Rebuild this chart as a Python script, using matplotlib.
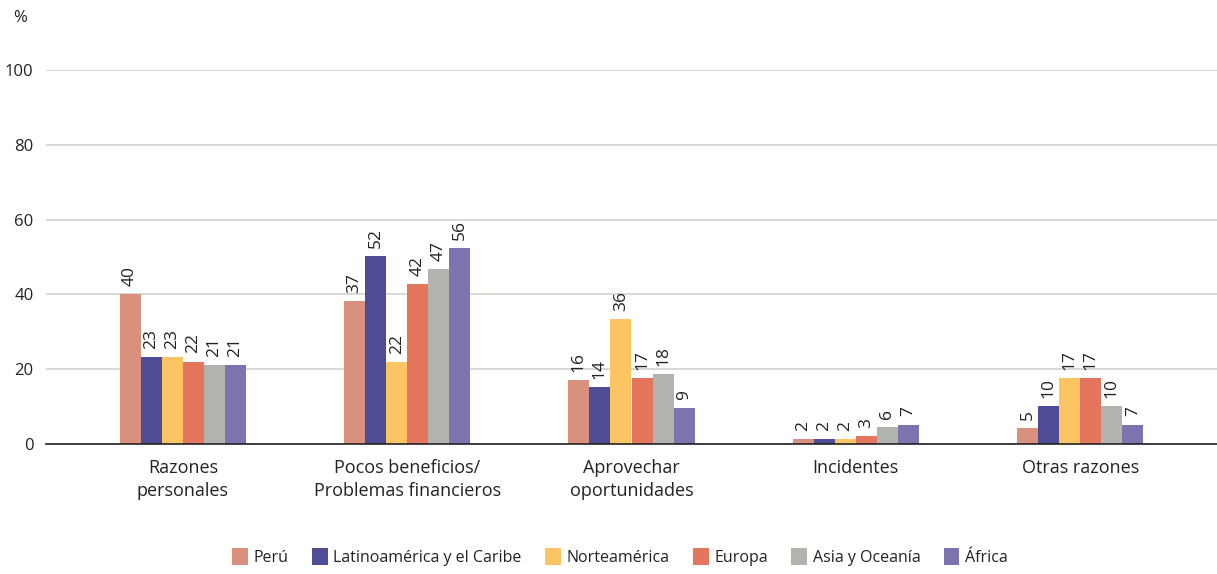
import matplotlib
matplotlib.use("Agg")
import matplotlib.pyplot as plt
import numpy as np

plt.rcParams['font.family'] = ['Open Sans', 'DejaVu Sans']

categories = ["Razones\npersonales", "Pocos beneficios/\nProblemas financieros",
              "Aprovechar\noportunidades", "Incidentes", "Otras razones"]
series = ["Perú", "Latinoamérica y el Caribe", "Norteamérica", "Europa",
          "Asia y Oceanía", "África"]
colors = ["#D9907D", "#4F4C97", "#FCC463", "#E4765E", "#B1B3AD", "#7C74AE"]

# bar heights as drawn
heights = [
    [40.0, 38.2, 17.1, 1.3, 4.3],
    [23.3, 50.3, 15.2, 1.3, 10.2],
    [23.3, 21.9, 33.4, 1.3, 17.6],
    [22.0, 42.8, 17.6, 2.1, 17.6],
    [21.0, 46.8, 18.7, 4.5, 10.2],
    [21.0, 52.4, 9.6, 5.2, 5.2],
]
# printed labels
labels = [
    [40, 37, 16, 2, 5],
    [23, 52, 14, 2, 10],
    [23, 22, 36, 2, 17],
    [22, 42, 17, 3, 17],
    [21, 47, 18, 6, 10],
    [21, 56, 9, 7, 7],
]
yticks = [0, 20, 40, 60, 80, 100]

fig = plt.figure(figsize=(12.17, 5.74), dpi=100)
ax = fig.add_axes([46/1217, 1-444/574, 1-46/1217, (444-70)/574])

x = np.arange(len(categories))
w = 0.094
for i, (s, c) in enumerate(zip(series, colors)):
    xs = x + (i - 2.5) * w
    ax.bar(xs, heights[i], width=w, color=c, label=s, zorder=3)
    for xi, h, l in zip(xs, heights[i], labels[i]):
        ax.text(xi, h + 2.2, str(l), rotation=90, ha='center', va='bottom',
                fontsize=12.5, color='#222222', zorder=4)

ax.set_xlim(-0.61, 4.61)
ax.set_ylim(0, 100)
ax.set_yticks(yticks)
ax.set_yticklabels([str(t) for t in yticks], fontsize=12, color='#222222')
ax.tick_params(axis='y', length=0, pad=9)
ax.tick_params(axis='x', length=0, pad=11)
ax.set_xticks(x)
ax.set_xticklabels(categories, fontsize=13, color='#222222', linespacing=1.35)
for spine in ['top', 'right', 'left']:
    ax.spines[spine].set_visible(False)
ax.spines['bottom'].set_color('#222222')
ax.spines['bottom'].set_linewidth(1.2)
ax.spines['bottom'].set_zorder(5)
ax.yaxis.grid(True, color='#d6d6d2', linewidth=1.3, zorder=0)
ax.set_axisbelow(True)

fig.text(20/1217, 1-18/574, "%", fontsize=12, color='#222222', ha='center', va='center')

leg = fig.legend(loc='center', bbox_to_anchor=(620/1217, 1-557/574), ncol=6,
                 frameon=False, fontsize=11.5, handlelength=1.0, handleheight=1.2,
                 handletextpad=0.35, columnspacing=1.45)
for t in leg.get_texts():
    t.set_color('#222222')

fig.savefig("out.png", dpi=100)
